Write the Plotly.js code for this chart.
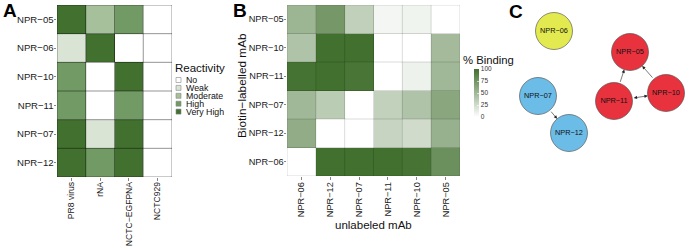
<!DOCTYPE html>
<html>
<head>
<meta charset="utf-8">
<script src="https://cdn.plot.ly/plotly-3.0.1.min.js"></script>
<style>html,body{margin:0;padding:0;background:#fff;}#chart{width:685px;height:248px;}</style>
</head>
<body>
<div id="chart"></div>
<script>
// ---------- Panel A data ----------
const mabsA = ['NPR−05','NPR−06','NPR−10','NPR−11','NPR−07','NPR−12'];
const antigens = ['PR8 virus','rNA','NCTC−EGFPNA','NCTC929'];
// reactivity level index (0 = No ... 4 = Very High), rows = mabsA, cols = antigens
const reactivity = [
  [4, 2, 3, 0],
  [1, 4, 0, 0],
  [3, 0, 4, 0],
  [3, 0, 3, 0],
  [4, 1, 4, 0],
  [4, 3, 4, 0]
];
const levelNames = ['No','Weak','Moderate','High','Very High'];
const levelColors = ['#ffffff','#d9e4d5','#a6c09c','#729a64','#41702f'];

// ---------- Panel B data ----------
const biotinMabs = ['NPR−05','NPR−10','NPR−11','NPR−07','NPR−12','NPR−06'];
const unlabeledMabs = ['NPR−06','NPR−12','NPR−07','NPR−11','NPR−10','NPR−05'];
const binding = [
  [52, 72, 33,  6,  8,  0],
  [42,100,100,  0,  0, 48],
  [98,100, 96,  0,  9, 50],
  [50, 36,  0, 32, 42, 62],
  [58,  0,  0, 30, 25, 55],
  [ 0,100,100,100, 97, 78]
];
const bindingTicks = [0, 25, 50, 75, 100];

// ---------- Panel C data ----------
const nodeNames = ['NPR−06','NPR−05','NPR−10','NPR−11','NPR−07','NPR−12'];
const nodeGroup = [0, 1, 1, 1, 2, 2];
const nodeX = [554, 630, 666, 614, 538, 569];
const nodeY = [31, 52, 93, 101, 96, 133];
const groupColors = ['#e3ea4f','#e8333f','#6cbce8'];
const edges = [ // [from, to, bidirectional]
  ['NPR−07','NPR−12', false],
  ['NPR−11','NPR−05', false],
  ['NPR−10','NPR−05', false],
  ['NPR−11','NPR−10', true]
];

const FONT = '"Liberation Sans", Arial, Helvetica, sans-serif';
const W = 685, H = 248;
const px = v => v / W;
const py = v => 1 - v / H;

const traces = [];
traces.push({
  type: 'heatmap',
  x: antigens.map((_, i) => i),
  y: mabsA.map((_, i) => i),
  z: reactivity,
  zmin: 0, zmax: levelNames.length - 1,
  colorscale: levelColors.map((c, i) => [i / (levelColors.length - 1), c]),
  showscale: false,
  xaxis: 'x', yaxis: 'y',
  hoverinfo: 'skip'
});
traces.push({
  type: 'heatmap',
  x: unlabeledMabs.map((_, i) => i),
  y: biotinMabs.map((_, i) => i),
  z: binding,
  zmin: 0, zmax: 100,
  colorscale: [[0, '#ffffff'], [1, '#41702f']],
  xaxis: 'x2', yaxis: 'y2',
  hoverinfo: 'skip',
  colorbar: {
    x: px(474), xanchor: 'left', y: py(93), yanchor: 'middle',
    len: 48, lenmode: 'pixels', thickness: 5, thicknessmode: 'pixels',
    outlinewidth: 0, xpad: 0, ypad: 0,
    tickvals: bindingTicks, ticktext: bindingTicks.map(String),
    ticks: 'inside', ticklen: 2, tickcolor: '#ffffff', tickwidth: 0.6,
    tickfont: {family: FONT, size: 6.5, color: '#333'}
  }
});
traces.push({
  type: 'scatter', mode: 'markers+text',
  x: nodeX, y: nodeY, text: nodeNames,
  textposition: 'middle center',
  textfont: {family: FONT, size: 7.3, color: '#111'},
  marker: {size: 37, color: nodeGroup.map(g => groupColors[g]), line: {color: '#444', width: 0.6}},
  xaxis: 'x3', yaxis: 'y3', hoverinfo: 'skip', showlegend: false, cliponaxis: false
});

const shapes = [];
const annotations = [];
function grid(xr, yr, nc, nr, color) {
  for (let i = 0; i <= nc; i++) shapes.push({type: 'line', xref: xr, yref: yr, x0: i - 0.5, x1: i - 0.5, y0: -0.5, y1: nr - 0.5, line: {color: color, width: 1}, layer: 'above'});
  for (let j = 0; j <= nr; j++) shapes.push({type: 'line', xref: xr, yref: yr, x0: -0.5, x1: nc - 0.5, y0: j - 0.5, y1: j - 0.5, line: {color: color, width: 1}, layer: 'above'});
}
grid('x', 'y', antigens.length, mabsA.length, 'rgba(0,0,0,0.42)');
grid('x2', 'y2', unlabeledMabs.length, biotinMabs.length, 'rgba(0,0,0,0.14)');

// Panel A legend
annotations.push({xref: 'paper', yref: 'paper', x: px(173), y: py(68), xanchor: 'left', yanchor: 'middle', showarrow: false, text: 'Reactivity', font: {family: FONT, size: 11.5, color: '#111'}});
levelNames.forEach((n, i) => {
  const cy = 80 + i * 7.9;
  shapes.push({type: 'rect', xref: 'paper', yref: 'paper', x0: px(176), x1: px(181), y0: py(cy - 2.5), y1: py(cy + 2.5), fillcolor: levelColors[i], line: {color: '#888', width: 0.6}});
  annotations.push({xref: 'paper', yref: 'paper', x: px(184.5), y: py(cy), xanchor: 'left', yanchor: 'middle', showarrow: false, borderpad: 0, text: n, font: {family: FONT, size: 8.8, color: '#111'}});
});

// Panel B titles
annotations.push({xref: 'paper', yref: 'paper', x: px(374), y: py(225), xanchor: 'center', yanchor: 'middle', showarrow: false, text: 'unlabeled mAb', font: {family: FONT, size: 11.5, color: '#111'}});
annotations.push({xref: 'paper', yref: 'paper', x: px(242), y: py(86), xanchor: 'center', yanchor: 'middle', showarrow: false, textangle: -90, borderpad: 0, text: 'Biotin−labelled mAb', font: {family: FONT, size: 11.8, color: '#111'}});
annotations.push({xref: 'paper', yref: 'paper', x: px(461), y: py(60), xanchor: 'left', yanchor: 'middle', showarrow: false, text: '% Binding', font: {family: FONT, size: 11.3, color: '#111'}});

// Panel letters
[['A', 1], ['B', 231], ['C', 507]].forEach(([t, x]) => {
  annotations.push({xref: 'paper', yref: 'paper', x: px(x), y: py(t === 'C' ? 12 : 11), xanchor: 'left', yanchor: 'middle', showarrow: false, text: '<b>' + t + '</b>', font: {family: FONT, size: 19, color: '#000'}});
});

// Panel C edges
edges.forEach(([a, b, both]) => {
  const ia = nodeNames.indexOf(a), ib = nodeNames.indexOf(b);
  annotations.push({
    xref: 'x3', yref: 'y3', axref: 'x3', ayref: 'y3',
    x: nodeX[ib], y: nodeY[ib], ax: nodeX[ia], ay: nodeY[ia], text: '',
    showarrow: true, arrowhead: 2, arrowsize: 1.1, arrowwidth: 0.6, arrowcolor: '#222',
    standoff: 18.5, startstandoff: 18.5,
    arrowside: both ? 'end+start' : 'end', startarrowhead: 2, startarrowsize: 1.1
  });
});

const tickCommon = {ticks: 'outside', ticklen: 2.5, tickcolor: '#333', tickwidth: 0.6, showgrid: false, zeroline: false, fixedrange: true};
const layout = {
  width: W, height: H,
  margin: {l: 0, r: 0, t: 0, b: 0},
  paper_bgcolor: '#fff', plot_bgcolor: '#fff',
  showlegend: false,
  xaxis: Object.assign({domain: [px(57), px(172)], range: [-0.5, antigens.length - 0.5], tickvals: antigens.map((_, i) => i), ticktext: antigens,
    tickangle: -90, tickfont: {family: FONT, size: 8.6, color: '#1a1a1a'}, ticklabelstandoff: -2, anchor: 'y'}, tickCommon),
  yaxis: Object.assign({domain: [py(177), py(5)], range: [mabsA.length - 0.5, -0.5], tickvals: mabsA.map((_, i) => i), ticktext: mabsA,
    tickfont: {family: FONT, size: 9.6, color: '#1a1a1a'}, ticklabelstandoff: -2, anchor: 'x'}, tickCommon),
  xaxis2: Object.assign({domain: [px(287), px(460)], range: [-0.5, unlabeledMabs.length - 0.5], tickvals: unlabeledMabs.map((_, i) => i), ticktext: unlabeledMabs,
    tickangle: -90, tickfont: {family: FONT, size: 9.2, color: '#1a1a1a'}, ticklabelstandoff: -1, anchor: 'y2'}, tickCommon),
  yaxis2: Object.assign({domain: [py(176), py(5)], range: [biotinMabs.length - 0.5, -0.5], tickvals: biotinMabs.map((_, i) => i), ticktext: biotinMabs,
    tickfont: {family: FONT, size: 9.2, color: '#1a1a1a'}, ticklabelstandoff: -2, anchor: 'x2'}, tickCommon),
  xaxis3: {domain: [px(500), 1], range: [500, 685], visible: false, anchor: 'y3', fixedrange: true},
  yaxis3: {domain: [0, 1], range: [248, 0], visible: false, anchor: 'x3', fixedrange: true},
  shapes: shapes,
  annotations: annotations
};

Plotly.newPlot('chart', traces, layout, {displayModeBar: false, staticPlot: true});
</script>
</body>
</html>
